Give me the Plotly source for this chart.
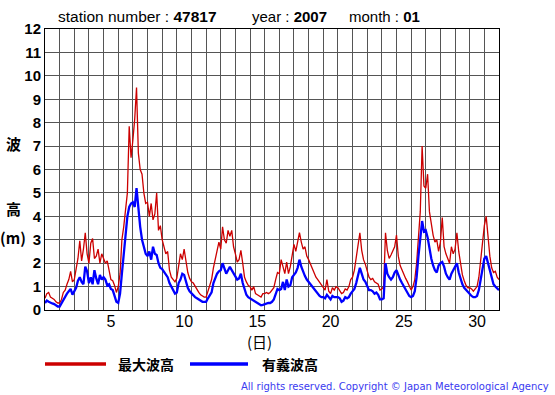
import plotly.graph_objects as go

# ---- data (3-hourly readings, Jan 2007, station 47817) ----
days = list(range(1, 32))
x_tick_vals = [5, 10, 15, 20, 25, 30]
y_tick_vals = list(range(0, 13))
step_hours = 3

max_wave = [  # 最大波高 (m)
    0.5, 0.7, 0.75, 0.55, 0.5, 0.45, 0.35, 0.3,      # 1
    0.3, 0.45, 0.75, 0.85, 1.1, 1.3, 1.65, 1.2,      # 2
    1.3, 1.7, 2.2, 2.95, 2.1, 2.6, 3.3, 2.4,         # 3
    2.0, 2.85, 3.05, 2.2, 2.3, 2.6, 2.0, 2.4,        # 4
    2.2, 2.0, 2.1, 1.7, 1.3, 1.25, 1.05, 0.75,       # 5
    1.0, 1.55, 3.0, 3.55, 4.3, 5.0, 7.85, 6.5,       # 6
    7.25, 8.15, 9.5, 6.7, 6.0, 5.8, 5.0, 4.55,       # 7
    4.6, 4.0, 4.55, 3.85, 4.1, 5.0, 3.4, 3.6,        # 8
    3.0, 2.7, 2.4, 2.5, 1.7, 1.4, 1.3, 1.2,          # 9
    1.35, 1.85, 2.4, 2.15, 2.6, 2.1, 1.6, 1.35,      # 10
    1.2, 1.15, 1.0, 0.85, 0.75, 0.65, 0.6, 0.55,     # 11
    0.55, 0.8, 1.0, 1.3, 1.8, 2.2, 2.5, 2.9,         # 12
    2.6, 3.55, 3.0, 2.85, 3.4, 3.15, 3.4, 2.7,       # 13
    2.4, 2.05, 2.15, 2.55, 2.0, 1.4, 1.2, 1.05,      # 14
    1.0, 0.85, 1.0, 0.7, 0.65, 0.6, 0.55, 0.7,       # 15
    0.7, 0.75, 0.7, 0.75, 0.85, 0.95, 1.3, 1.6,      # 16
    1.55, 2.15, 1.85, 1.55, 2.05, 1.55, 1.85, 2.35,  # 17
    2.8, 2.5, 2.9, 3.3, 2.9, 2.6, 2.7, 2.3,          # 18
    2.15, 1.95, 1.8, 1.55, 1.4, 1.3, 1.2, 1.05,      # 19
    1.0, 0.85, 1.3, 0.8, 0.7, 0.95, 0.85, 1.0,       # 20
    0.95, 0.8, 0.7, 0.75, 0.9, 0.85, 1.0, 1.3,       # 21
    1.4, 1.7, 2.3, 2.7, 3.3, 2.55, 2.15, 1.95,       # 22
    1.65, 1.4, 1.3, 1.35, 1.2, 1.15, 1.1, 0.85,      # 23
    0.9, 1.0, 3.3, 2.55, 2.2, 2.35, 2.5, 2.7,        # 24
    3.2, 2.3, 1.9, 1.7, 1.5, 1.35, 1.2, 1.0,         # 25
    0.85, 1.0, 1.3, 2.0, 3.2, 4.2, 7.0, 5.3,         # 26
    5.2, 5.8, 4.2, 3.6, 3.2, 2.9, 3.0, 2.5,          # 27
    2.9, 3.95, 2.7, 2.4, 2.15, 2.0, 2.7, 2.4,        # 28
    2.6, 3.3, 2.5, 1.9, 1.5, 1.25, 1.05, 0.95,       # 29
    0.95, 0.9, 0.8, 0.9, 1.0, 1.4, 2.2, 3.0,         # 30
    3.6, 4.0, 3.0, 2.3, 1.8, 1.6, 1.65, 1.4,         # 31
    1.3,
]

sig_wave = [  # 有義波高 (m)
    0.3, 0.4, 0.35, 0.3, 0.28, 0.25, 0.18, 0.15,     # 1
    0.15, 0.3, 0.45, 0.55, 0.7, 0.8, 0.9, 0.65,      # 2
    0.8, 0.95, 1.25, 1.4, 1.2, 1.1, 1.85, 1.65,      # 3
    1.15, 1.4, 1.1, 1.7, 1.35, 1.1, 1.5, 1.3,        # 4
    1.4, 1.3, 1.05, 1.1, 0.9, 0.85, 0.6, 0.35,       # 5
    0.3, 0.7, 1.55, 2.4, 3.3, 4.0, 4.4, 4.55,        # 6
    4.6, 4.4, 5.2, 4.25, 3.55, 3.0, 2.7, 2.4,        # 7
    2.3, 2.5, 2.15, 2.7, 2.4, 2.35, 2.0, 1.8,        # 8
    1.75, 1.65, 1.5, 1.4, 1.15, 1.0, 0.8, 0.7,       # 9
    0.75, 1.15, 1.3, 1.55, 1.5, 1.2, 0.95, 0.8,      # 10
    0.7, 0.6, 0.55, 0.5, 0.45, 0.4, 0.35, 0.35,      # 11
    0.35, 0.5, 0.6, 0.75, 1.15, 1.4, 1.55, 1.65,     # 12
    1.7, 2.0, 1.8, 1.55, 1.7, 1.85, 1.7, 1.55,       # 13
    1.4, 1.3, 1.35, 1.55, 1.15, 0.85, 0.65, 0.55,    # 14
    0.5, 0.45, 0.4, 0.35, 0.3, 0.25, 0.2, 0.22,      # 15
    0.25, 0.3, 0.3, 0.3, 0.35, 0.45, 0.7, 0.9,       # 16
    0.85, 0.9, 1.2, 0.85, 1.3, 1.0, 1.05, 1.4,       # 17
    1.5, 1.6, 1.8, 2.15, 1.85, 1.6, 1.45, 1.3,       # 18
    1.2, 1.1, 0.95, 0.85, 0.75, 0.65, 0.6, 0.55,     # 19
    0.55, 0.5, 0.65, 0.55, 0.45, 0.6, 0.55, 0.55,    # 20
    0.55, 0.5, 0.35, 0.4, 0.55, 0.5, 0.55, 0.7,      # 21
    0.8, 0.9, 1.15, 1.5, 1.8, 1.55, 1.3, 1.2,        # 22
    1.0, 0.85, 0.85, 0.8, 0.7, 0.75, 0.65, 0.45,     # 23
    0.45, 0.5, 2.0, 1.55, 1.4, 1.3, 1.4, 1.6,        # 24
    1.7, 1.45, 1.3, 1.15, 1.0, 0.9, 0.75, 0.6,       # 25
    0.55, 0.6, 0.8, 1.4, 2.3, 3.1, 3.8, 3.35,        # 26
    3.4, 3.1, 2.6, 2.2, 1.9, 1.7, 1.6, 1.9,          # 27
    2.0, 2.05, 1.85, 1.55, 1.4, 1.3, 1.55, 1.7,      # 28
    1.8, 2.0, 1.6, 1.3, 1.1, 0.95, 0.85, 0.75,       # 29
    0.7, 0.6, 0.55, 0.55, 0.6, 0.85, 1.3, 1.85,      # 30
    2.2, 2.3, 2.0, 1.6, 1.3, 1.1, 1.0, 0.9,          # 31
    0.85,
]

# time axis: day d occupies [d-0.5, d+0.5]
t = [0.5 + i * step_hours / 24 for i in range(len(max_wave))]

LAT = "Liberation Sans, Arial, Helvetica, sans-serif"
CJK = "Noto Sans CJK JP, sans-serif"

fig = go.Figure()
fig.add_trace(go.Scatter(x=t, y=max_wave, mode="lines", name="最大波高",
                         line=dict(color="#cc0000", width=1.3)))
fig.add_trace(go.Scatter(x=t, y=sig_wave, mode="lines", name="有義波高",
                         line=dict(color="#0000ff", width=2.3)))

L, R, T, B = 45, 56, 29, 85
W, H = 555, 395
PW, PH = W - L - R, H - T - B


def px(x):
    return (x - L) / PW


def py(y):
    return (H - B - y) / PH


fig.update_layout(
    width=W, height=H,
    margin=dict(l=L, r=R, t=T, b=B, pad=0),
    paper_bgcolor="white", plot_bgcolor="white",
    showlegend=False,
    xaxis=dict(
        range=[0.5, len(days) + 0.5],
        tickmode="array", tickvals=x_tick_vals,
        ticktext=[str(v) for v in x_tick_vals],
        showgrid=False, zeroline=False, ticks="",
        ticklabelstandoff=-3,
        tickfont=dict(family=LAT, size=16, color="black"),
        showline=True, mirror=True, linecolor="black", linewidth=1,
        minor=dict(tickmode="linear", tick0=0.5, dtick=1, showgrid=True,
                   gridcolor="#555555", gridwidth=1, ticks=""),
    ),
    yaxis=dict(
        range=[0, 12], tickmode="array", tickvals=y_tick_vals,
        showgrid=True, gridcolor="#555555", gridwidth=1, zeroline=False,
        ticks="", tickfont=dict(family=LAT, size=15, color="black", weight="bold"),
        showline=True, mirror=True, linecolor="black", linewidth=1,
    ),
)

ann = []
def add_text(text, x, y, size, anchor="left", family=LAT, color="black"):
    ann.append(dict(text=text, x=px(x), y=py(y), xref="paper", yref="paper",
                    xanchor=anchor, yanchor="middle", showarrow=False,
                    font=dict(family=family, size=size, color=color)))

add_text("station number : <b>47817</b>", 56, 17, 15.5)
add_text("year : <b>2007</b>", 250, 17, 15)
add_text("month : <b>01</b>", 347, 17, 15)
add_text("<b>波</b>", 13, 143, 15, "center", CJK)
add_text("<b>高</b>", 13, 208, 15, "center", CJK)
add_text("<b>(m)</b>", 13, 237, 15, "center", CJK)
add_text("(日)", 259, 341, 15, "center", CJK)
add_text("<b>最大波高</b>", 116, 364, 14, "left", CJK)
add_text("<b>有義波高</b>", 260, 364, 14, "left", CJK)
add_text("All rights reserved. Copyright © Japan Meteorological Agency",
         551, 386, 10, "right", "DejaVu Sans, sans-serif", "#3a3af0")
fig.update_layout(annotations=ann)

shapes = [
    dict(type="line", xref="paper", yref="paper", x0=px(45), x1=px(106),
         y0=py(364), y1=py(364), line=dict(color="#cc0000", width=3.5)),
    dict(type="line", xref="paper", yref="paper", x0=px(190), x1=px(248),
         y0=py(364), y1=py(364), line=dict(color="#0000ff", width=3.5)),
]
fig.update_layout(shapes=shapes)

fig.write_html("out.html", config={"displayModeBar": False},
               post_script="document.body.style.margin='0';")
